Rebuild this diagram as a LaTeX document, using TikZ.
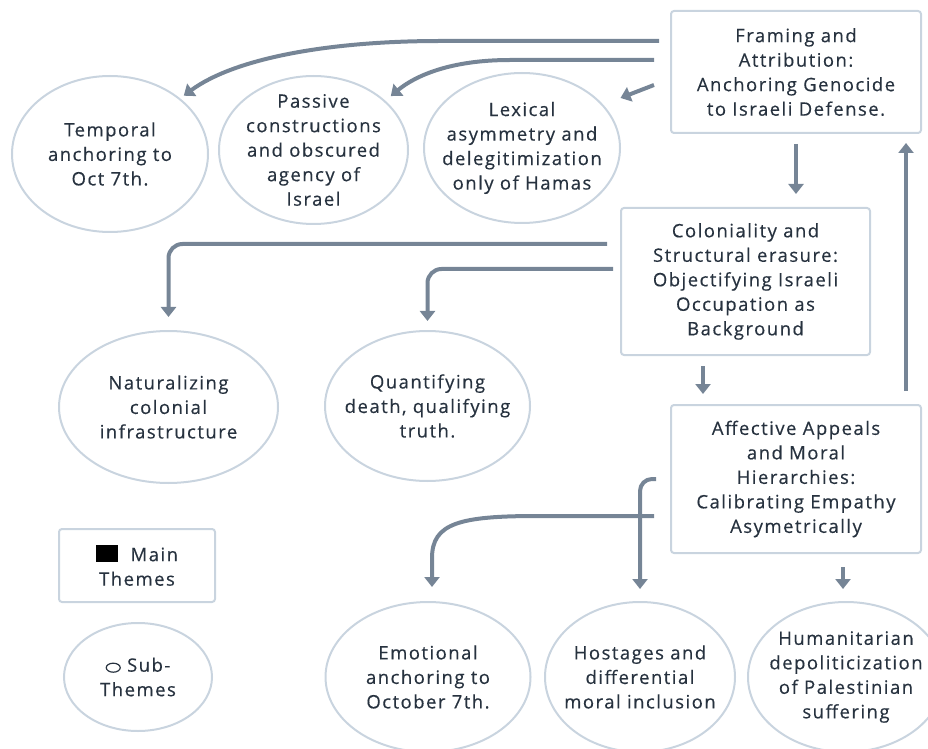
\documentclass[tikz,border=0pt]{standalone}
\usepackage{fontspec}
\setmainfont[LetterSpace=8, FakeBold=0.4]{Open Sans}
\usetikzlibrary{calc, shapes.geometric, arrows.meta, positioning}
\definecolor{txtcol}{HTML}{27323F}
\definecolor{edgecol}{HTML}{C9D4DF}
\definecolor{arrcol}{HTML}{768596}
\newcommand\thmfont{\fontsize{18.5}{24.5}\selectfont}
\tikzset{
  theme/.style={draw=edgecol, line width=2pt, rounded corners=3pt, text=txtcol, align=center, inner sep=0pt, font=\thmfont},
  subtheme/.style={ellipse, draw=edgecol, line width=2pt, text=txtcol, align=center, inner sep=-30pt, font=\thmfont},
  link/.style={draw=arrcol, line width=4pt, -{Triangle[width=15pt,length=10pt]}},
}

\begin{document}
\begin{tikzpicture}[x=1pt, y=1pt]
  \useasboundingbox (0,0) rectangle (928,748);
  % main themes
  \node[theme, minimum width=250pt, minimum height=122pt] (fram) at (796,676) {Framing and\\Attribution:\\Anchoring Genocide\\to Israeli Defense.};
  \node[theme, minimum width=249pt, minimum height=147pt] (colon) at (745.5,466.5) {Coloniality and\\Structural erasure:\\Objectifying Israeli\\Occupation as\\Background};
  \node[theme, minimum width=250pt, minimum height=148pt] (affect) at (796,269) {Affective Appeals\\and Moral\\Hierarchies:\\Calibrating Empathy\\Asymetrically};
  % sub-themes
  \node[subtheme, minimum width=196pt, minimum height=156pt] (temporal) at (110,594) {Temporal\\anchoring to\\Oct 7th.};
  \node[subtheme, minimum width=189pt, minimum height=148pt] (passive) at (313.5,598) {Passive\\constructions\\and obscured\\agency of\\Israel};
  \node[subtheme, minimum width=196pt, minimum height=150pt] (lexical) at (522,600) {Lexical\\asymmetry and\\delegitimization\\only of Hamas};
  \node[subtheme, minimum width=219pt, minimum height=152pt] (natural) at (168.5,341) {Naturalizing\\colonial\\infrastructure};
  \node[subtheme, minimum width=205pt, minimum height=150pt] (quantif) at (427.5,342) {Quantifying\\death, qualifying\\truth.};
  \node[subtheme, minimum width=205pt, minimum height=150pt] (emotion) at (428,71) {Emotional\\anchoring to\\October 7th.};
  \node[subtheme, minimum width=190pt, minimum height=150pt] (hostage) at (640,71) {Hostages and\\differential\\moral inclusion};
  \node[subtheme, minimum width=196pt, minimum height=150pt] (human) at (846,71) {Humanitarian\\depoliticization\\of Palestinian\\suffering};
  % legend
  \node[theme, minimum width=156pt, minimum height=73pt] (legmain) at (137,182.5) {{\color{black}\rule[-1pt]{22pt}{17pt}}\ \ Main\\Themes};
  \node[subtheme, minimum width=148pt, minimum height=108pt] (legsub) at (138,71) {\tikz[baseline=-4pt]\draw[txtcol, line width=1.2pt] (0,0) ellipse [x radius=7pt, y radius=4.5pt];\ Sub-\\Themes};

  % links
  \draw[link] ($(fram.west)+(-11,31)$) -- (440,707) .. controls (330,707) and (235,690) .. ([shift={(3,3)}]temporal.38);
  \draw[link] ($(fram.west)+(-16,12)$) -- (510,688) .. controls (450,688) and (415,672) .. ([shift={(6,4)}]passive.35);
  \draw[link] ($(fram.west)+(-16,-13)$) -- ([shift={(16,8)}]lexical.27);
  \draw[link] ($(fram.south)+(0,-10)$) -- ($(fram.south |- colon.north)+(0,13)$);
  \draw[link] ($(affect.north)+(110,13)$) -- ($(fram.south)+(110,-9)$);
  \draw[link, rounded corners=14pt] ($(colon.west)+(-13,37.5)$) -| ($(natural.north)+(0,13)$);
  \draw[link, rounded corners=14pt] ($(colon.west)+(-7,12.5)$) -| ($(quantif.north)+(0,9)$);
  \draw[link] ($(colon.south)+(-42.5,-10)$) -- ($(affect.north)+(-93,10)$);
  \draw[link, rounded corners=12pt] ($(affect.west)+(-14,0)$) -| ($(hostage.north)+(0,12)$);
  \draw[link] ($(affect.west)+(-16,-37)$) -- (538,232) .. controls (460,232) and (432,225) .. (432,190) -- ($(emotion.north)+(4,14)$);
  \draw[link] ($(affect.south)+(47,-13)$) -- ($(affect.south)+(47,-35)$);
\end{tikzpicture}
\end{document}
